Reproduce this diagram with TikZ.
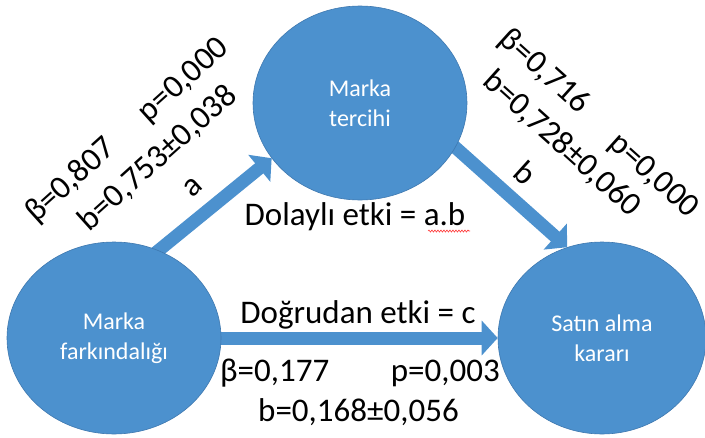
\documentclass[tikz,border=0pt]{standalone}
\usepackage{fontspec}
\setmainfont{Carlito}
\usetikzlibrary{shapes.geometric,arrows.meta,decorations.pathmorphing,backgrounds}
\definecolor{nodeblue}{RGB}{76,145,206}
\definecolor{edgeblue}{RGB}{62,120,175}
\begin{document}
\begin{tikzpicture}[x=1pt,y=-1pt,
  bubble/.style={ellipse, fill=nodeblue, draw=edgeblue, line width=0.6pt, inner sep=0pt,
    text=white, align=center, font=\fontsize{24}{30}\selectfont},
  flow/.style={draw=nodeblue, line width=13pt, shorten <=-8pt,
    -{Triangle[length=16pt,width=34pt]}},
  lbl/.style={font=\fontsize{33}{40}\selectfont, inner sep=0pt},
]
\useasboundingbox (0,0) rectangle (705,437);
\node[bubble, minimum width=214pt, minimum height=194pt] (T) at (360,103) {Marka\\tercihi};
\node[bubble, minimum width=214pt, minimum height=192pt] (L) at (114,338) {Marka\\farkındalığı};
\node[bubble, minimum width=208pt, minimum height=192pt] (R) at (602,338) {Satın alma\\kararı};
\begin{pgfonlayer}{background}
\draw[flow] (L.63) -- (T.212);
\draw[flow] (T.-25) -- (R.111);
\draw[flow] (L.east) -- (R.west);
\end{pgfonlayer}
% left labels
\node[lbl, rotate=42] (l1) at (71,181) {β=0,807};
\node[lbl, rotate=42] (l2) at (184,81) {p=0,000};
\node[lbl, rotate=42] (l3) at (158,158) {b=0,753±0,038};
\node[lbl, rotate=42] (la) at (193,187) {a};
% right labels
\node[lbl, rotate=-42] (r1) at (544,72) {β=0,716};
\node[lbl, rotate=-42] (r2) at (653,176) {p=0,000};
\node[lbl, rotate=-42] (r3) at (562,144) {b=0,728±0,060};
\node[lbl, rotate=-42] (rb) at (526,173) {b};
% middle labels
\node[lbl, anchor=base] (indirect) at (355,225) {Dolaylı etki = a.b};
\node[lbl, anchor=base] (direct) at (358,323) {Doğrudan etki = c};
\node[lbl, anchor=base west] (c1) at (220,381) {β=0,177};
\node[lbl, anchor=base east] (c2) at (500,381) {p=0,003};
\node[lbl, anchor=base west] (c3) at (258,421) {b=0,168±0,056};
\coordinate (sq1) at (428,231);
\coordinate (sq2) at (470,231);
\draw[red!80, line width=0.6pt, decorate, decoration={snake, amplitude=1pt, segment length=3pt}] (sq1) -- (sq2);
\end{tikzpicture}
\end{document}
